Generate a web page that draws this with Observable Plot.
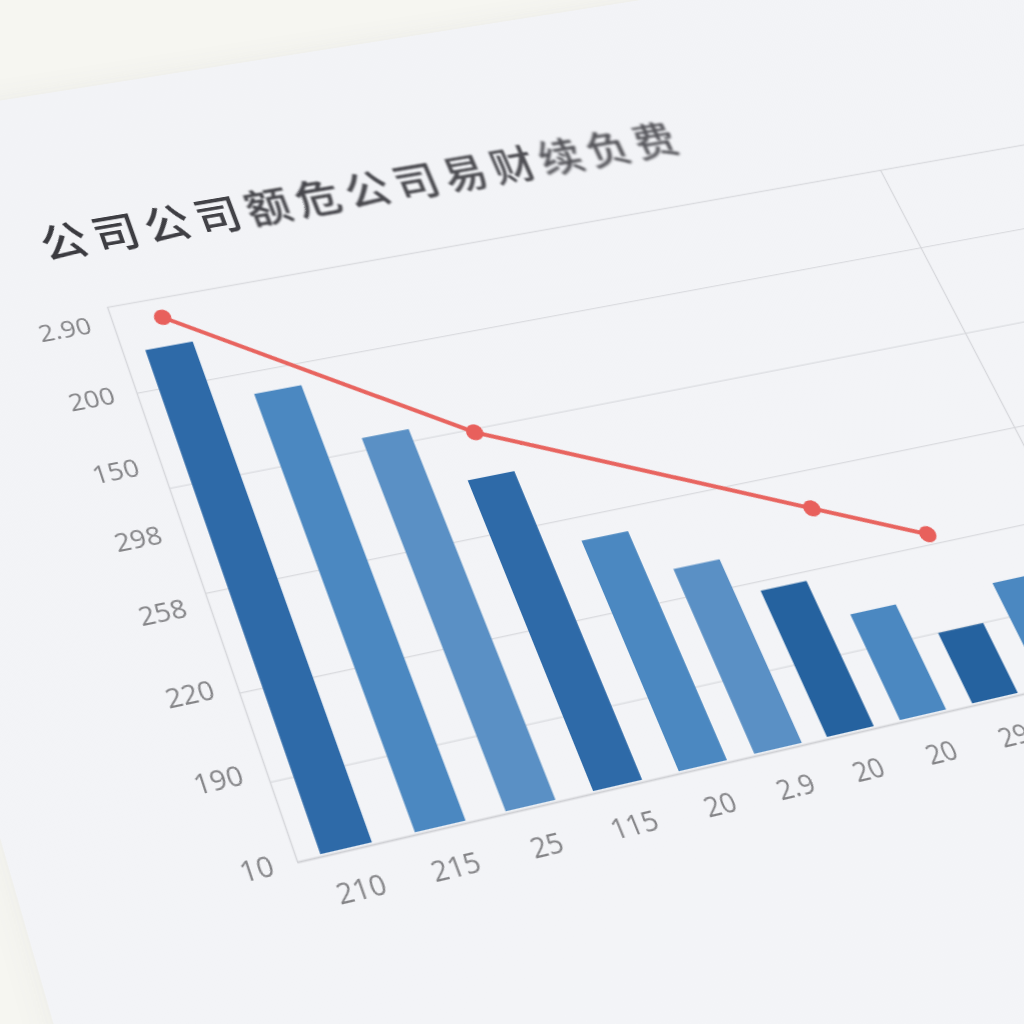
<!DOCTYPE html>
<html lang="zh">
<head>
<meta charset="utf-8">
<script src="https://cdn.jsdelivr.net/npm/d3@7"></script>
<script src="https://cdn.jsdelivr.net/npm/@observablehq/plot@0.6"></script>
<style>
  html, body { margin: 0; width: 1024px; height: 1024px; overflow: hidden; background: #f6f6f1; }
  #sheet { position: absolute; left: 0; top: 0; width: 0; height: 0; transform-origin: 0 0; }
  #paper { position: absolute; left: -244px; top: -250px; width: 2000px; height: 1500px;
           background: linear-gradient(160deg, #f2f3f6 0%, #f3f4f7 50%, #f4f5f8 100%);
           box-shadow: 0 0 22px 4px rgba(232,232,228,.6); }
  #title { position: absolute; left: -43px; top: -108px; margin: 0; white-space: nowrap;
           font: 500 46px/1.15 "Noto Sans CJK SC", sans-serif; }
  #title span { display: inline-block; margin-right: 7px; }
  #chart { position: absolute; width: 1280px; filter: blur(0.75px); }
  #chart svg { overflow: visible; background: transparent; display: block; max-width: none; }
</style>
</head>
<body>
<svg width="0" height="0" style="position:absolute">
  <filter id="grain" x="0" y="0" width="100%" height="100%" color-interpolation-filters="sRGB">
    <feTurbulence type="fractalNoise" baseFrequency="0.45" numOctaves="2" seed="4" result="noise"/>
    <feColorMatrix in="noise" type="matrix" values="0 0 0 0.9 0  0 0 0 0.9 0  0 0 0 0.9 0  0 0 0 0 1" result="gray"/>
    <feComposite in="SourceGraphic" in2="gray" operator="arithmetic" k1="0" k2="1" k3="0.26" k4="-0.13" result="mix"/>
    <feComposite in="mix" in2="SourceGraphic" operator="in"/>
  </filter>
</svg>
<div id="sheet">
  <div id="paper"></div>
  <h1 id="title"></h1>
  <div id="chart"></div>
</div>
<script>
const titleText = "公司公司额危公司易财续负费";

// Bars: horizontal position (share of plot width, centre), value, tone
const barPositions = [5.5, 16, 26.25, 36.3, 46.3, 55.26, 64, 72.9, 81.85, 90.9];
const barValues    = [90.6, 78.8, 67.1, 55.9, 41.4, 33.3, 26.5, 19.3, 13.0, 19.3];
const barTones     = ["dark", "mid", "light", "dark", "mid", "light", "deep", "mid", "deep", "mid"];
const barLabels    = ["210", "215", "25", "115", "20", "2.9", "20", "20", "29"];
const barHalfWidth = 2.85;
const barBase = 0.35;

// Red line
const linePositions = [5.85, 36.4, 71.3, 83.3];
const lineValues    = [96.25, 64.3, 38.8, 30.1];

// Axes
const gridValues = [100, 83, 64.9, 45.7, 28.2, 13.1, 0];
const yTickValues = [97.1, 83.3, 69.6, 57.1, 43.9, 29.6, 15.2, 0.3];
const yTickLabels = ["2.90", "200", "150", "298", "258", "220", "190", "10"];

// Plot area size on the sheet, and where its corners lie in the photograph
const plotW = 840, plotH = 560;
const cornerTL = [107, 307], cornerTR = [880, 170], cornerBR = [1139, 667], cornerBL = [297, 862];

const bars = barPositions.map((p, i) => ({p, v: barValues[i], tone: barTones[i]}));
const line = linePositions.map((p, i) => ({p, v: lineValues[i]}));

// Title: the far end of the sheet is out of focus
const titleEl = document.getElementById("title");
const chars = Array.from(titleText);
chars.forEach((c, i) => {
  const t = i / (chars.length - 1);
  const s = document.createElement("span");
  s.textContent = c;
  s.style.filter = `blur(${0.7 + 1.0 * t * t}px)`;
  s.style.color = d3.interpolateRgb("#3b3b40", "#55555a")(t);
  titleEl.append(s);
});

const marginLeft = 100, marginTop = 10, marginBottom = 60, marginRight = 4;
const chart = Plot.plot({
  width: plotW * 1.4 + marginLeft + marginRight,
  height: plotH + marginTop + marginBottom,
  marginLeft, marginTop, marginBottom, marginRight,
  x: {domain: [0, 140], axis: null},
  y: {domain: [0, 100], axis: null},
  color: {type: "ordinal", domain: ["deep", "dark", "mid", "light"], range: ["#25629f", "#2e6aa8", "#4b88c1", "#5a90c5"]},
  style: {fontFamily: "'Open Sans', sans-serif", background: "transparent"},
  marks: [
    Plot.ruleY(gridValues, {stroke: "#dadbdf", strokeWidth: 1.3}),
    Plot.ruleX([0, 100], {stroke: "#d6d7db", strokeWidth: 1.4}),
    Plot.ruleY([0], {stroke: "#cfd0d4", strokeWidth: 1.5}),
    Plot.rectY(bars, {x1: d => d.p - barHalfWidth, x2: d => d.p + barHalfWidth, y1: barBase, y2: "v", fill: "tone", ariaLabel: "bars"}),
    Plot.line(line, {x: "p", y: "v", stroke: "#e8645f", strokeWidth: 4.5}),
    Plot.dot(line, {x: "p", y: "v", r: 8.5, fill: "#e8605c"}),
    Plot.axisY({
      ticks: yTickValues, tickSize: 0, tickPadding: 22, fontSize: 26, fill: "#858588", label: null,
      tickFormat: d => yTickLabels[yTickValues.indexOf(d)]
    }),
    Plot.axisX({
      ticks: barPositions.slice(0, barLabels.length), tickSize: 0, tickPadding: 25, fontSize: 26, fill: "#858588", label: null,
      tickFormat: d => barLabels[barPositions.indexOf(d)]
    })
  ]
});
const holder = document.getElementById("chart");
holder.style.left = -marginLeft + "px";
holder.style.top = -marginTop + "px";
holder.append(chart);
chart.querySelectorAll("g[aria-label='bars'] rect").forEach(r => r.setAttribute("filter", "url(#grain)"));

// Perspective of the photographed sheet: projective map of the plot rectangle onto its four corners
const [x0, y0] = cornerTL, [x1, y1] = cornerTR, [x2, y2] = cornerBR, [x3, y3] = cornerBL;
const sx = x0 - x1 + x2 - x3, sy = y0 - y1 + y2 - y3;
const dx1 = x1 - x2, dx2 = x3 - x2, dy1 = y1 - y2, dy2 = y3 - y2;
const det = dx1 * dy2 - dx2 * dy1;
const g = (sx * dy2 - dx2 * sy) / det, h = (dx1 * sy - sx * dy1) / det;
const a = x1 - x0 + g * x1, b = x3 - x0 + h * x3, d = y1 - y0 + g * y1, e = y3 - y0 + h * y3;
document.getElementById("sheet").style.transform =
  `matrix3d(${a / plotW},${d / plotW},0,${g / plotW},${b / plotH},${e / plotH},0,${h / plotH},0,0,1,0,${x0},${y0},0,1)`;
</script>
</body>
</html>
